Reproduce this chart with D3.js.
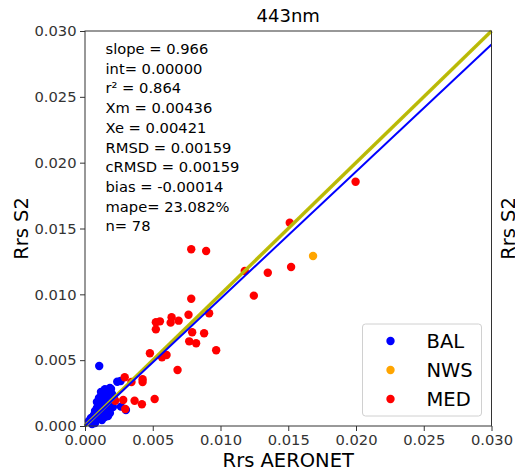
<!DOCTYPE html>
<html>
<head>
<meta charset="utf-8">
<script src="https://cdn.jsdelivr.net/npm/d3@7"></script>
<style>
    body { margin: 0; background: #fff; }
    text { font-family: "DejaVu Sans", sans-serif; }
</style>
</head>
<body>
<svg id="scatter" width="515" height="472"></svg>
<script>
    // data (Rrs AERONET vs Rrs S2, 443nm)
    var balX = [0.00029, 0.00044, 0.00059, 0.00066, 0.00081, 0.00074, 0.00088, 0.00096, 0.00103, 0.00111,
        0.00118, 0.00125, 0.00133, 0.00140, 0.00140, 0.00155, 0.00155, 0.00162, 0.00170, 0.00177,
        0.00184, 0.00192, 0.00199, 0.00206, 0.00118, 0.00103, 0.00088, 0.00147, 0.00170, 0.00125,
        0.00074, 0.00052, 0.00214, 0.00184,
        0.00105, 0.00238, 0.00263, 0.00192, 0.00147, 0.00265, 0.00302];
    var balY = [0.00038, 0.00061, 0.00030, 0.00084, 0.00053, 0.00114, 0.00137, 0.00091, 0.00061, 0.00167,
        0.00122, 0.00205, 0.00091, 0.00152, 0.00235, 0.00190, 0.00122, 0.00266, 0.00220, 0.00159,
        0.00099, 0.00197, 0.00243, 0.00144, 0.00258, 0.00213, 0.00182, 0.00068, 0.00076, 0.00046,
        0.00023, 0.00015, 0.00213, 0.00289,
        0.00456, 0.00336, 0.00342, 0.00281, 0.00279, 0.00147, 0.00122];

    var nwsX = [0.01683];
    var nwsY = [0.01291];

    var medX = [0.01997, 0.01179, 0.01246, 0.01521, 0.01349, 0.00784, 0.00894, 0.00784, 0.00764, 0.00916,
        0.00639, 0.00632, 0.00691, 0.00553, 0.00523, 0.00523, 0.00791, 0.00879, 0.00769, 0.00820,
        0.00968, 0.00479, 0.00568, 0.00602, 0.00683, 0.00425, 0.00425, 0.00293, 0.00343, 0.00223,
        0.00282, 0.00366, 0.00420, 0.00514, 0.00297, 0.01511];
    var medY = [0.01855, 0.01177, 0.00990, 0.01208, 0.01164, 0.01342, 0.01329, 0.00967, 0.00845, 0.00856,
        0.00826, 0.00785, 0.00800, 0.00795, 0.00788, 0.00734, 0.00712, 0.00704, 0.00643, 0.00628,
        0.00575, 0.00552, 0.00522, 0.00539, 0.00425, 0.00355, 0.00334, 0.00370, 0.00334, 0.00192,
        0.00197, 0.00192, 0.00165, 0.00205, 0.00129, 0.01544];

    var ticks = [0, 0.005, 0.010, 0.015, 0.020, 0.025, 0.030];
    var regSlope = 0.966;
    var regInt = 0.0;

    var statsLines = ["slope = 0.966", "int= 0.00000", "r\u00b2 = 0.864", "Xm = 0.00436", "Xe = 0.00421",
        "RMSD = 0.00159", "cRMSD = 0.00159", "bias = -0.00014", "mape= 23.082%", "n= 78"];

    var groups = [
        {name: "BAL", color: "#0000ff", xs: balX, ys: balY},
        {name: "NWS", color: "#ffa500", xs: nwsX, ys: nwsY},
        {name: "MED", color: "#ff0000", xs: medX, ys: medY}
    ];

    var svg = d3.select("#scatter");
    var plotLeft = 85, plotRight = 491.5, plotTop = 31, plotBottom = 426;

    var x = d3.scaleLinear().domain([0, 0.03]).range([plotLeft, plotRight]);
    var y = d3.scaleLinear().domain([0, 0.03]).range([plotBottom, plotTop]);

    var fmt = d3.format(".3f");

    // points
    var plot = svg.append("g");
    groups.forEach(function (g) {
        plot.selectAll(null)
            .data(d3.range(g.xs.length))
            .enter().append("circle")
            .attr("cx", function (i) { return x(g.xs[i]); })
            .attr("cy", function (i) { return y(g.ys[i]); })
            .attr("r", 4.2)
            .attr("fill", g.color);
    });

    // 1:1 line and regression line, drawn over the points
    var line = d3.line()
        .x(function (d) { return x(d[0]); })
        .y(function (d) { return y(d[1]); });

    plot.append("path")
        .attr("d", line([[0, 0], [0.03, 0.03]]))
        .attr("stroke", "#bfbf00").attr("stroke-width", 3.5).attr("fill", "none");
    plot.append("path")
        .attr("d", line([[0, 0], [0.03, 0.03]]))
        .attr("stroke", "#9a9a40").attr("stroke-width", 0.8).attr("opacity", 0.6).attr("fill", "none");
    plot.append("path")
        .attr("d", line([[0, regInt], [0.03, regInt + regSlope * 0.03]]))
        .attr("stroke", "#0000ff").attr("stroke-width", 2).attr("fill", "none");

    // axes
    var xAxis = d3.axisBottom(x).tickValues(ticks).tickFormat(fmt).tickSize(5).tickPadding(3.5);
    var yAxis = d3.axisLeft(y).tickValues(ticks).tickFormat(fmt).tickSize(5).tickPadding(3.5);

    var gx = svg.append("g").attr("transform", "translate(0," + plotBottom + ")").call(xAxis);
    var gy = svg.append("g").attr("transform", "translate(" + plotLeft + ",0)").call(yAxis);
    [gx, gy].forEach(function (g) {
        g.select(".domain").remove();
        g.selectAll(".tick line").attr("stroke", "#333");
        g.selectAll(".tick text").attr("fill", "#333")
            .style("font-size", "14.7px").style("font-family", "DejaVu Sans");
    });

    // frame
    svg.append("rect")
        .attr("x", plotLeft).attr("y", plotTop)
        .attr("width", plotRight - plotLeft).attr("height", plotBottom - plotTop)
        .attr("fill", "none").attr("stroke", "#333").attr("stroke-width", 1);

    // stats text
    svg.append("g").selectAll("text")
        .data(statsLines)
        .enter().append("text")
        .attr("x", 105.5)
        .attr("y", function (d, i) { return 54 + i * 19.7; })
        .style("font-size", "14.7px")
        .attr("fill", "#000")
        .text(function (d) { return d; });

    // titles
    svg.append("text").text("443nm")
        .attr("x", (plotLeft + plotRight) / 2).attr("y", 22)
        .style("text-anchor", "middle").style("font-size", "18px");

    svg.append("text").text("Rrs AERONET")
        .attr("x", (plotLeft + plotRight) / 2).attr("y", 467)
        .style("text-anchor", "middle").style("font-size", "19.5px");

    svg.append("text").text("Rrs S2")
        .attr("transform", "translate(28," + ((plotTop + plotBottom) / 2) + ") rotate(-90)")
        .style("text-anchor", "middle").style("font-size", "19.5px");

    svg.append("text").text("Rrs S2")
        .attr("transform", "translate(514.5," + ((plotTop + plotBottom) / 2) + ") rotate(-90)")
        .style("text-anchor", "middle").style("font-size", "19.5px");

    // legend
    var legend = svg.append("g");
    legend.append("rect")
        .attr("x", 362.5).attr("y", 324)
        .attr("width", 119).attr("height", 92)
        .attr("rx", 3).attr("ry", 3)
        .attr("fill", "#fff").attr("fill-opacity", 0.8)
        .attr("stroke", "#d0d0d0").attr("stroke-width", 1);

    var rows = legend.selectAll("g.row")
        .data(groups)
        .enter().append("g")
        .attr("class", "row")
        .attr("transform", function (d, i) { return "translate(0," + (341 + i * 29) + ")"; });
    rows.append("circle")
        .attr("cx", 390.5).attr("cy", 0).attr("r", 4.2)
        .attr("fill", function (d) { return d.color; });
    rows.append("text")
        .attr("x", 426.5).attr("y", 7)
        .style("font-size", "19.5px")
        .text(function (d) { return d.name; });
</script>
</body>
</html>
